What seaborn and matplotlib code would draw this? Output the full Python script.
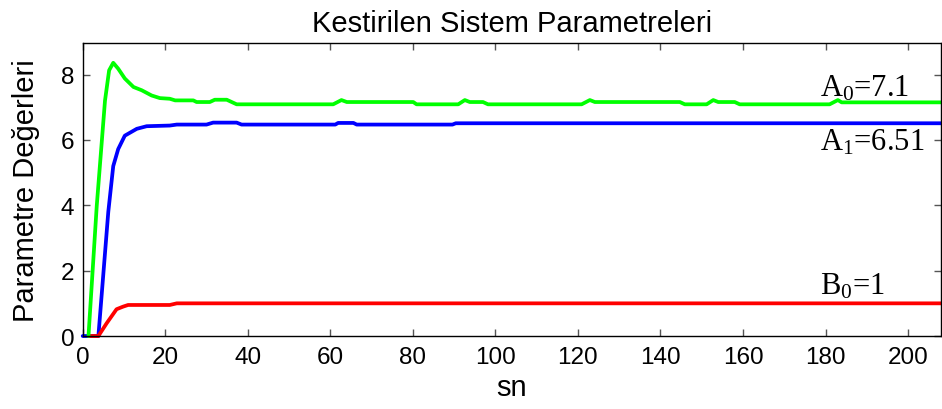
import matplotlib
matplotlib.use("Agg")
import matplotlib.pyplot as plt
import seaborn as sns
import pandas as pd

# Estimated parameter curves (time in seconds)
a0_t = [1.4, 3.4, 5.4, 6.4, 7.4, 8.6, 10.2, 12.3, 14.3, 16.7, 18.7, 21.1, 22.4, 26.8, 27.6,
        30.8, 32.0, 34.9, 37.3, 60.7, 62.7, 64.0, 80.1, 80.9, 91.0, 92.6, 93.8, 97.0, 98.2,
        120.9, 122.9, 124.1, 144.7, 145.9, 151.2, 152.8, 154.0, 158.0, 159.2, 181.0, 183.0,
        183.9, 208]
a0_v = [0.0, 3.98, 7.2, 8.13, 8.36, 8.18, 7.88, 7.62, 7.52, 7.36, 7.28, 7.26, 7.21, 7.21, 7.16,
        7.16, 7.23, 7.23, 7.09, 7.09, 7.22, 7.16, 7.16, 7.09, 7.09, 7.22, 7.16, 7.16, 7.09,
        7.09, 7.22, 7.16, 7.16, 7.09, 7.09, 7.22, 7.16, 7.16, 7.09, 7.09, 7.22,
        7.15, 7.15]

a1_t = [0, 3.8, 5.0, 6.2, 7.4, 8.6, 10.2, 13.1, 15.5, 21.1, 22.8, 30.0, 31.6, 37.3, 38.5,
        61.2, 61.9, 65.6, 66.4, 89.6, 90.4, 208]
a1_v = [0, 0, 1.9, 3.8, 5.2, 5.72, 6.13, 6.34, 6.42, 6.44, 6.47, 6.47, 6.53, 6.53, 6.47,
        6.47, 6.52, 6.52, 6.47, 6.47, 6.51, 6.51]

b0_t = [1.5, 3.8, 5.8, 8.2, 9.8, 11.0, 21.1, 22.8, 208]
b0_v = [0, 0, 0.39, 0.82, 0.9, 0.95, 0.95, 1.0, 1.0]

x_ticks = [0, 20, 40, 60, 80, 100, 120, 140, 160, 180, 200]
y_ticks = [0, 2, 4, 6, 8]

labels = [r"A$_0$=7.1", r"A$_1$=6.51", r"B$_0$=1"]
label_x = [178.6, 178.6, 178.6]
label_y = [7.36, 5.72, 1.31]

title = "Kestirilen Sistem Parametreleri"
xlabel = "sn"
ylabel = "Parametre Değerleri"

sns.set_style("ticks")
plt.rcParams["font.family"] = ["Liberation Sans", "DejaVu Sans"]
plt.rcParams["mathtext.fontset"] = "custom"
plt.rcParams["mathtext.rm"] = "Liberation Serif"
plt.rcParams["mathtext.it"] = "Liberation Serif"
plt.rcParams["mathtext.default"] = "rm"
plt.rcParams["text.color"] = "black"
plt.rcParams["axes.labelcolor"] = "black"

fig = plt.figure(figsize=(9.42, 4.10), dpi=100)
ax = fig.add_axes([0.0878, 0.178, 0.9112, 0.715])

df_a1 = pd.DataFrame({"t": a1_t, "v": a1_v})
df_b0 = pd.DataFrame({"t": b0_t, "v": b0_v})
df_a0 = pd.DataFrame({"t": a0_t, "v": a0_v})

for df, col in [(df_a1, "#0000ff"), (df_b0, "#ff0000"), (df_a0, "#00ff00")]:
    sns.lineplot(data=df, x="t", y="v", ax=ax, color=col, linewidth=2.7,
                 estimator=None, sort=False, clip_on=False)

for lab, lx, ly in zip(labels, label_x, label_y):
    ax.text(lx, ly, lab, fontsize=22, family=["Liberation Serif"], color="black",
            ha="left", va="baseline")

ax.set_xlim(0, 208)
ax.set_ylim(0, 8.97)
ax.set_xticks(x_ticks)
ax.set_yticks(y_ticks)
ax.tick_params(direction="in", top=True, right=True, length=5, width=1,
               color="#555555", labelcolor="black", labelsize=17.5)
ax.tick_params(axis="x", pad=7)
ax.tick_params(axis="y", pad=6)
for s in ax.spines.values():
    s.set_visible(True)
    s.set_color("black")
    s.set_linewidth(1.0)

ax.set_title(title, fontsize=21, pad=8.5, color="black")
ax.set_xlabel(xlabel, fontsize=21, labelpad=4)
ax.set_ylabel(ylabel, fontsize=21, labelpad=15)

fig.savefig("out.png", dpi=100)
